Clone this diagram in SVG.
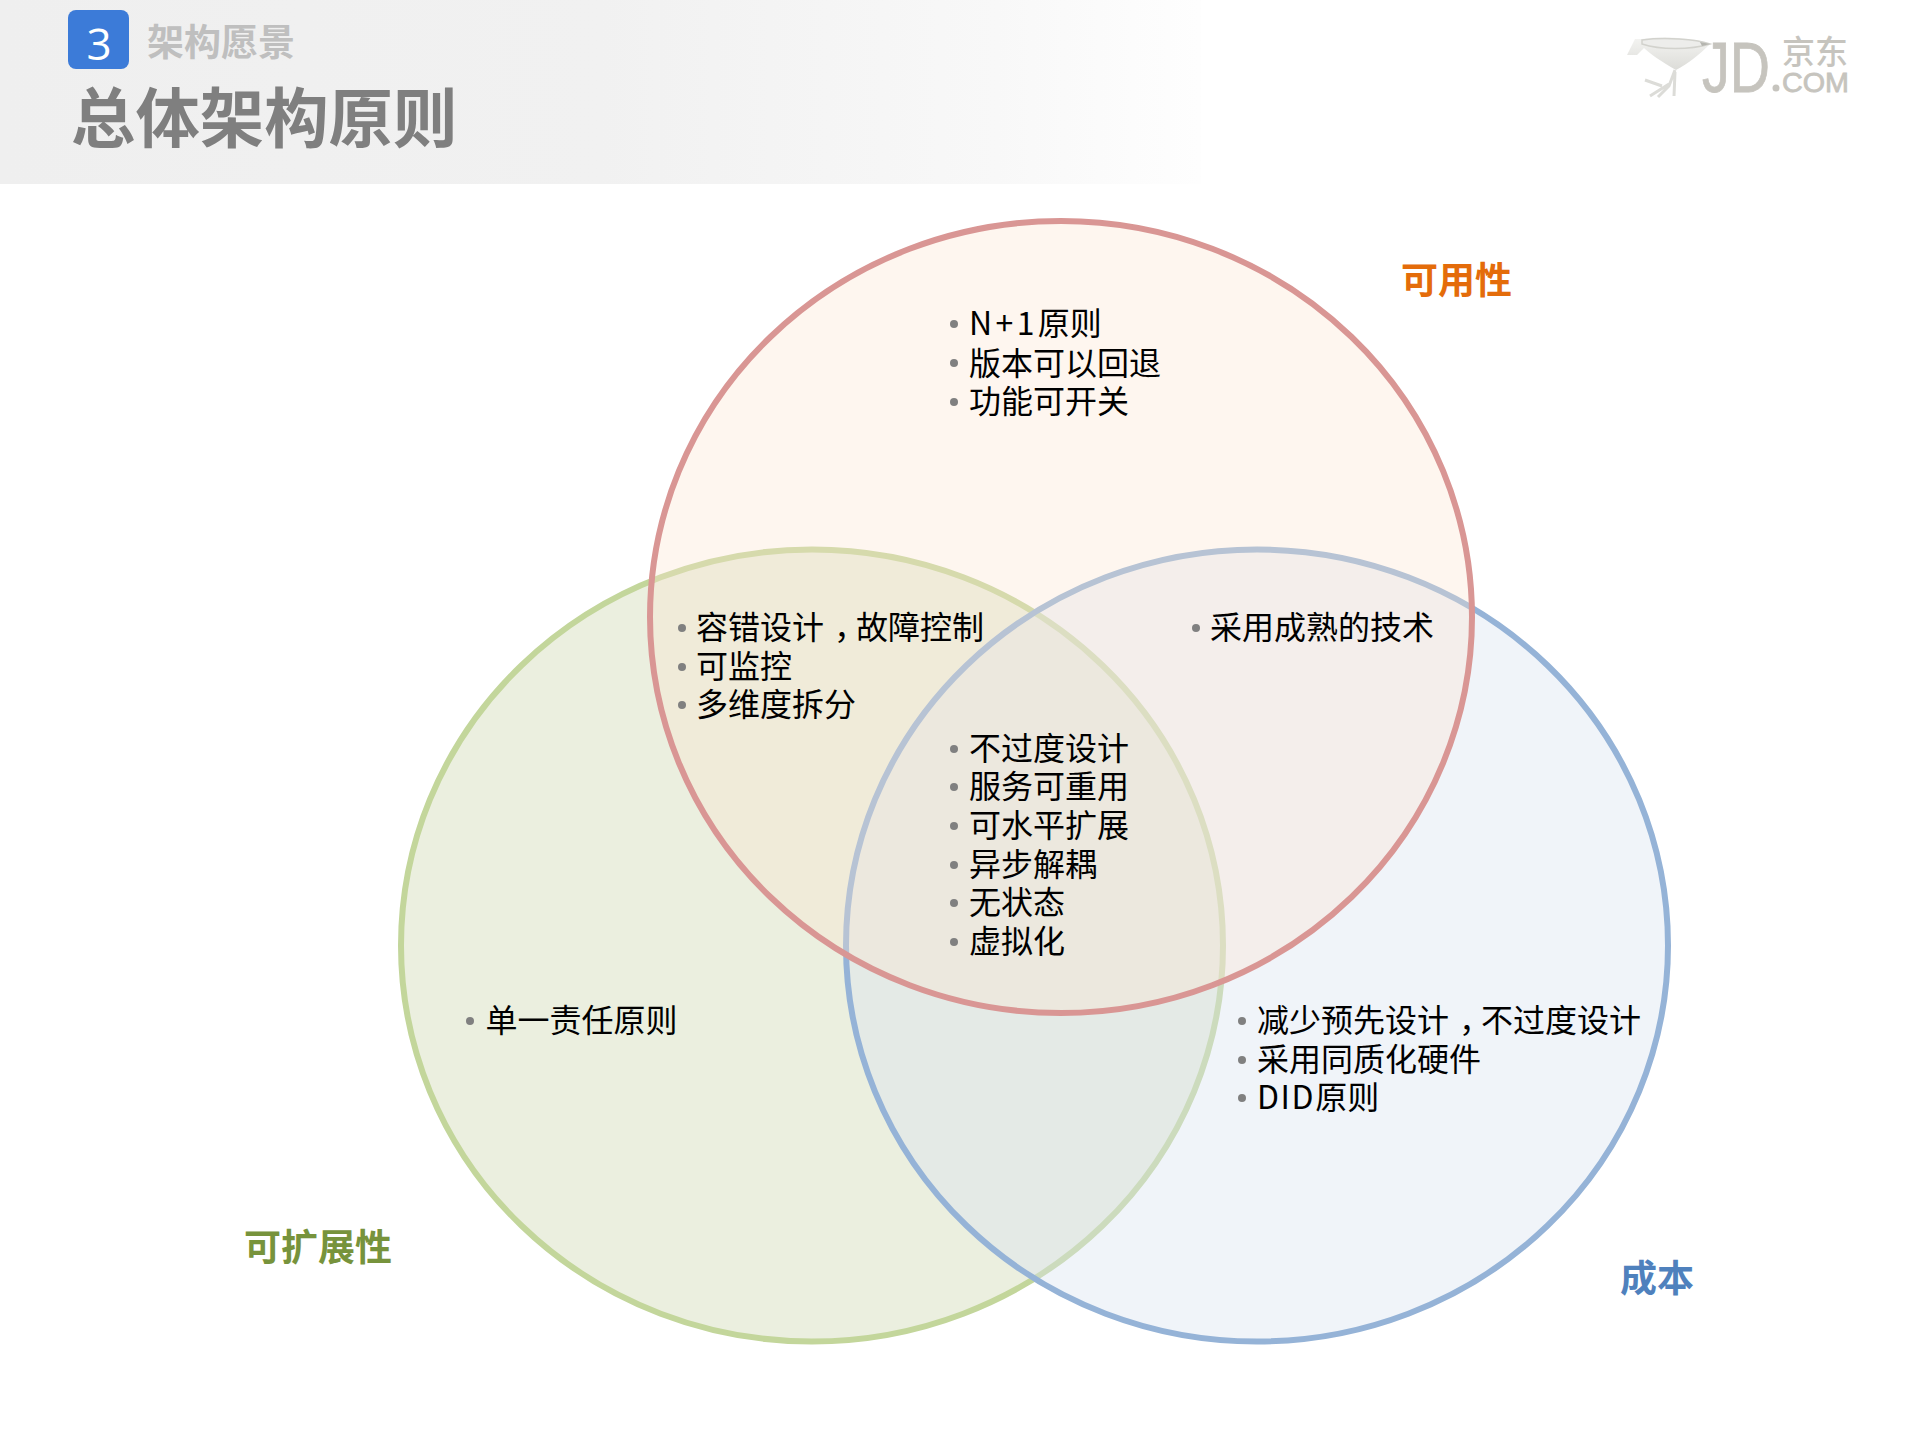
<svg xmlns="http://www.w3.org/2000/svg" width="1919" height="1439" viewBox="0 0 1919 1439">
<style>
text{font-family:"Noto Sans CJK SC","Noto Sans",sans-serif}
.t{font-size:32px;fill:#000}
.b{fill:#808080}
.h{font-size:37px;font-weight:700}
.logo{fill:#c6c4be}
.lat{font-family:"Liberation Sans",sans-serif;stroke:#c6c4be;stroke-width:.8}
</style>
<defs>
<linearGradient id="band" x1="0" x2="1" y1="0" y2="0"><stop offset="0" stop-color="#efefef"/><stop offset="0.5" stop-color="#f1f1f1"/><stop offset="0.83" stop-color="#f8f8f8"/><stop offset="1" stop-color="#fefefe"/></linearGradient>
<linearGradient id="bird" x1="0" x2="0" y1="0" y2="1"><stop offset="0" stop-color="#f4f4f2"/><stop offset="1" stop-color="#dcdcd8"/></linearGradient>
</defs>
<rect width="1919" height="1439" fill="#fff"/>
<g id="header">
<rect width="1201" height="184" fill="url(#band)"/>
<rect x="68" y="10" width="61" height="59" rx="8" fill="#3c7bd8"/>
<text x="99" y="60" text-anchor="middle" style="font-family:'Open Sans',sans-serif;font-size:44px" fill="#fff">3</text>
<text x="147" y="56" class="h" fill="#bfbfbf">架构愿景</text>
<text x="71" y="142" font-size="64.4" font-weight="700" fill="#7f7f7f">总体架构原则</text>
</g>
<g id="logo">
<path d="M1642 39C1665 36 1695 38 1710 44C1700 54 1688 64 1676 70C1662 62 1650 54 1644 48L1637 55L1627 55L1635 39Z" fill="url(#bird)"/>
<path d="M1642 40C1665 37 1695 39 1710 44C1690 50 1660 50 1642 44Z" fill="#ededeb" stroke="#d2d2cd" stroke-width="1.5"/>
<path d="M1700 42L1710 44L1702 46Z" fill="#b5b5af"/>
<path d="M1675 70L1669 86L1658 97M1675 72L1674 96M1669 84L1650 96M1662 86L1645 80" fill="none" stroke="#dcdcd8" stroke-width="3"/>
<text x="1702" y="92" class="logo lat" font-size="70" textLength="68" lengthAdjust="spacingAndGlyphs">JD</text>
<circle cx="1776" cy="88" r="3.5" fill="#c6c4be"/>
<text x="1782" y="64" class="logo" font-size="33" font-weight="500">京东</text>
<text x="1782" y="92" class="logo lat" font-size="28" textLength="67" lengthAdjust="spacingAndGlyphs">COM</text>
</g>
<g id="circles">
<ellipse id="circle-scale" cx="812" cy="945.5" rx="411" ry="396" fill="#ebefdf" stroke="#c3d69b" stroke-width="6"/>
<ellipse id="circle-cost" cx="1257" cy="945.5" rx="411" ry="396" fill="#d9e3f0" fill-opacity=".4" stroke="#95b3d7" stroke-width="6"/>
<ellipse id="circle-avail" cx="1061" cy="617" rx="411" ry="396" fill="#fce4ce" fill-opacity=".33"/>
<ellipse cx="1061" cy="617" rx="411" ry="396" fill="none" stroke="#d99694" stroke-width="6"/>
</g>
<g id="label-avail"><text x="1401" y="294" class="h" fill="#e46c0a">可用性</text></g>
<g id="label-scale"><text x="244" y="1261" class="h" fill="#77933c">可扩展性</text></g>
<g id="label-cost"><text x="1620" y="1292" class="h" fill="#4f81bd">成本</text></g>
<g id="list-avail">
<circle class="b" cx="954" cy="324" r="4"/><text class="t" x="969" y="335"><tspan letter-spacing="3.4">N+1</tspan>原则</text>
<circle class="b" cx="954" cy="363" r="4"/><text class="t" x="969" y="375">版本可以回退</text>
<circle class="b" cx="954" cy="402" r="4"/><text class="t" x="969" y="413">功能可开关</text>
</g>
<g id="list-avail-scale">
<circle class="b" cx="682" cy="628" r="4"/><text class="t" x="696" y="639">容错设计<tspan dx="10">，</tspan><tspan dx="-10">故障控制</tspan></text>
<circle class="b" cx="682" cy="667" r="4"/><text class="t" x="696" y="678">可监控</text>
<circle class="b" cx="682" cy="705" r="4"/><text class="t" x="696" y="716">多维度拆分</text>
</g>
<g id="list-avail-cost">
<circle class="b" cx="1196" cy="628" r="4"/><text class="t" x="1210" y="639">采用成熟的技术</text>
</g>
<g id="list-center">
<circle class="b" cx="954" cy="749" r="4"/><text class="t" x="969" y="760">不过度设计</text>
<circle class="b" cx="954" cy="787" r="4"/><text class="t" x="969" y="798">服务可重用</text>
<circle class="b" cx="954" cy="826" r="4"/><text class="t" x="969" y="837">可水平扩展</text>
<circle class="b" cx="954" cy="865" r="4"/><text class="t" x="969" y="876">异步解耦</text>
<circle class="b" cx="954" cy="903" r="4"/><text class="t" x="969" y="914">无状态</text>
<circle class="b" cx="954" cy="942" r="4"/><text class="t" x="969" y="953">虚拟化</text>
</g>
<g id="list-scale">
<circle class="b" cx="470" cy="1021" r="4"/><text class="t" x="485.5" y="1032">单一责任原则</text>
</g>
<g id="list-cost">
<circle class="b" cx="1242" cy="1021" r="4"/><text class="t" x="1257" y="1032">减少预先设计<tspan dx="10">，</tspan><tspan dx="-10">不过度设计</tspan></text>
<circle class="b" cx="1242" cy="1060" r="4"/><text class="t" x="1257" y="1071">采用同质化硬件</text>
<circle class="b" cx="1242" cy="1098" r="4"/><text class="t" x="1257" y="1109"><tspan letter-spacing="1.6">DID</tspan>原则</text>
</g>
</svg>
